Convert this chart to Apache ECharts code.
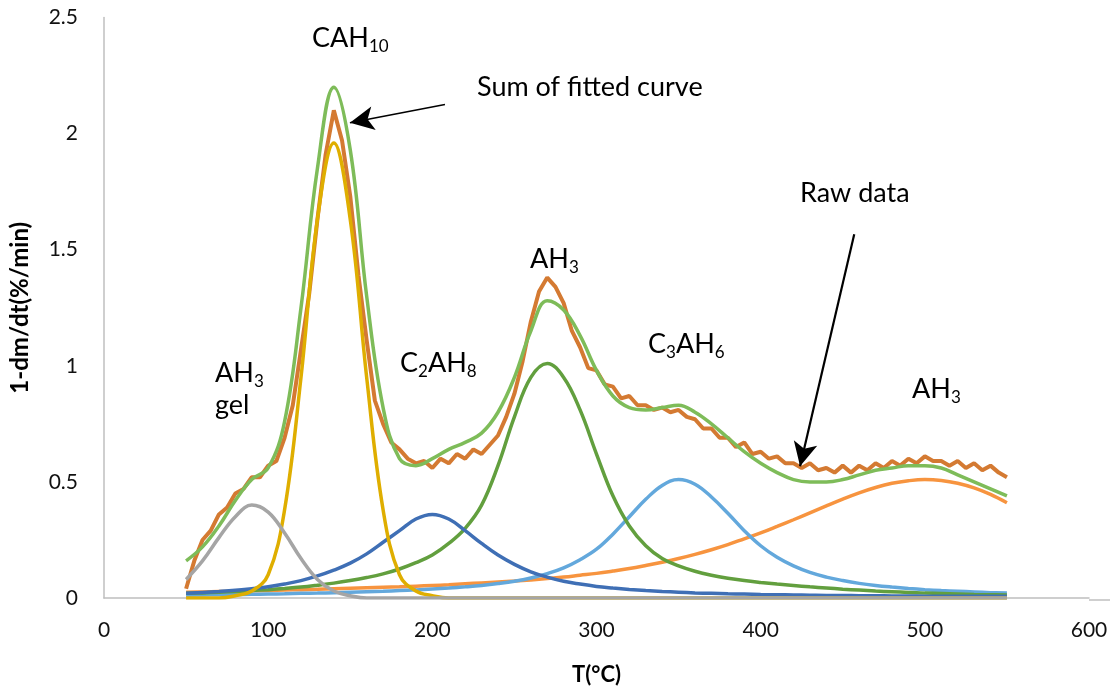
<!DOCTYPE html>
<html>
<head>
<meta charset="utf-8">
<script src="https://cdn.jsdelivr.net/npm/echarts@6/dist/echarts.min.js"></script>
<style>
  html, body { margin: 0; padding: 0; background: #fff; }
  #chart { width: 1114px; height: 691px; }
</style>
</head>
<body>
<div id="chart"></div>
<script>
// temperatures for the fitted curves (every 10 °C)
var temps = [50,60,70,80,90,100,110,120,130,140,150,160,170,180,190,200,210,220,230,240,250,
  260,270,280,290,300,310,320,330,340,350,360,370,380,390,400,410,420,430,440,450,
  460,470,480,490,500,510,520,530,540,550];

// AH3 gel
var gelVals = [0.08,0.16,0.26,0.35,0.40,0.37,0.28,0.17,0.08,0.03,0.01,0,0,0,0,0,0,0,0,0,0,
  0,0,0,0,0,0,0,0,0,0,0,0,0,0,0,0,0,0,0,0,
  0,0,0,0,0,0,0,0,0,0];
// CAH10
var cah10Vals = [0,0,0,0.01,0.03,0.10,0.38,0.95,1.63,1.96,1.63,0.95,0.38,0.10,0.03,0.01,0,0,0,0,0,
  0,0,0,0,0,0,0,0,0,0,0,0,0,0,0,0,0,0,0,0,
  0,0,0,0,0,0,0,0,0,0];
// C2AH8
var c2ah8Vals = [0.02,0.024,0.028,0.033,0.04,0.048,0.06,0.075,0.095,0.12,0.15,0.19,0.24,0.29,0.34,0.36,0.34,0.29,0.235,0.185,0.145,
  0.113,0.09,0.072,0.06,0.05,0.043,0.037,0.032,0.028,0.025,0.022,0.02,0.018,0.017,0.015,0.014,0.013,0.012,0.011,0.011,
  0.01,0.01,0.009,0.009,0.008,0.008,0.008,0.007,0.007,0.007];
// AH3 (270 °C)
var ah3Vals = [0.02,0.022,0.025,0.028,0.032,0.036,0.041,0.047,0.055,0.064,0.075,0.088,0.104,0.125,0.152,0.185,0.235,0.30,0.40,0.57,0.78,
  0.95,1.01,0.95,0.81,0.62,0.44,0.31,0.225,0.17,0.138,0.115,0.098,0.085,0.075,0.067,0.06,0.054,0.048,0.043,0.038,
  0.034,0.03,0.027,0.024,0.021,0.019,0.017,0.015,0.014,0.013];
// C3AH6
var c3ah6Vals = [0.012,0.013,0.014,0.015,0.016,0.017,0.018,0.02,0.021,0.023,0.025,0.027,0.029,0.032,0.035,0.039,0.043,0.048,0.054,0.062,0.072,
  0.086,0.105,0.13,0.165,0.21,0.275,0.35,0.425,0.485,0.51,0.49,0.435,0.365,0.29,0.225,0.175,0.138,0.11,0.09,0.075,
  0.063,0.054,0.047,0.041,0.036,0.032,0.029,0.026,0.023,0.021];
// AH3 (500 °C)
var ah3hVals = [0.025,0.026,0.028,0.029,0.031,0.032,0.034,0.036,0.038,0.04,0.042,0.044,0.046,0.048,0.051,0.054,0.057,0.061,0.065,0.069,0.073,
  0.078,0.084,0.09,0.098,0.106,0.116,0.127,0.14,0.154,0.17,0.188,0.208,0.23,0.255,0.28,0.308,0.337,0.367,0.397,0.426,
  0.453,0.476,0.494,0.505,0.51,0.506,0.494,0.474,0.446,0.41];
// sum of fitted curve
var sumVals = [0.16,0.22,0.31,0.42,0.51,0.56,0.76,1.25,1.85,2.20,1.93,1.30,0.82,0.60,0.57,0.60,0.64,0.67,0.71,0.80,0.95,
  1.15,1.28,1.24,1.13,0.98,0.87,0.82,0.81,0.82,0.83,0.80,0.75,0.69,0.63,0.58,0.54,0.51,0.50,0.50,0.51,
  0.53,0.55,0.56,0.57,0.57,0.56,0.53,0.50,0.47,0.44];

// raw data, every 5 °C
var rawTemps = [];
for (var t = 50; t <= 550; t += 5) rawTemps.push(t);
var rawVals = [0.04,0.16,0.25,0.29,0.36,0.39,0.45,0.47,0.52,0.52,0.57,0.59,0.69,0.83,1.07,1.31,1.63,1.91,2.10,1.97,
  1.73,1.39,1.11,0.85,0.75,0.67,0.64,0.60,0.58,0.59,0.56,0.60,0.58,0.62,0.60,0.64,0.62,0.66,0.70,0.78,
  0.88,1.02,1.19,1.32,1.38,1.34,1.27,1.15,1.08,0.99,0.98,0.92,0.91,0.86,0.87,0.83,0.83,0.81,0.82,0.80,
  0.81,0.78,0.77,0.73,0.73,0.69,0.69,0.65,0.67,0.62,0.63,0.60,0.61,0.58,0.58,0.56,0.58,0.55,0.56,0.54,
  0.57,0.54,0.57,0.55,0.58,0.56,0.59,0.57,0.60,0.58,0.61,0.59,0.59,0.57,0.59,0.56,0.58,0.55,0.57,0.54,0.52];

var xTicks = [0, 600, 100];
var yTicks = [0, 2.5, 0.5];

function pairs(xs, ys) {
    return xs.map(function(x, i){ return [x, ys[i]]; });
}

var FONT = 'Lato, "Open Sans", sans-serif';

function curve(name, vals, color, width, z) {
    return {
        name: name,
        type: 'line',
        data: pairs(temps, vals),
        showSymbol: false,
        smooth: 0.4,
        z: z,
        lineStyle: { color: color, width: width },
        itemStyle: { color: color }
    };
}

function label(text, left, top) {
    return {
        type: 'text',
        left: left,
        top: top,
        style: {
            text: text,
            fill: '#000',
            font: '27px ' + FONT,
            rich: {
                n: { fontSize: 27, fontFamily: FONT, lineHeight: 34, fill: '#000' },
                s: { fontSize: 17, fontFamily: FONT, lineHeight: 14, verticalAlign: 'bottom', fill: '#000' }
            }
        }
    };
}

var myChart = echarts.init(document.getElementById('chart'));
var sumSeries = curve('Sum of fitted curve', sumVals, '#7ebc59', 3.5, 3);
sumSeries.markLine = {
    silent: true,
    symbol: ['none', 'arrow'],
    symbolSize: [18, 24],
    label: { show: false },
    lineStyle: { color: '#000', width: 1.5, type: 'solid' },
    data: [
        [{ coord: [207.7, 2.125] }, { coord: [149.8, 2.047] }],
        [{ coord: [457, 1.567], lineStyle: { width: 2.2 } }, { coord: [424, 0.567] }]
    ]
};

var option = {
    animation: false,
    backgroundColor: '#fff',
    grid: { left: 104, right: 25, top: 17.5, bottom: 91 },
    xAxis: {
        type: 'value',
        min: xTicks[0], max: xTicks[1], interval: xTicks[2],
        name: 'T(°C)',
        nameLocation: 'middle',
        nameGap: 66,
        nameTextStyle: { fontFamily: FONT, fontWeight: 'bold', fontSize: 22, color: '#000' },
        axisLine: { lineStyle: { color: '#bfbfbf', width: 1.5 } },
        axisTick: { show: false },
        splitLine: { show: false },
        axisLabel: { fontFamily: FONT, fontSize: 21, color: '#111', margin: 22 }
    },
    yAxis: {
        type: 'value',
        min: yTicks[0], max: yTicks[1], interval: yTicks[2],
        name: '1-dm/dt(%/min)',
        nameLocation: 'middle',
        nameGap: 72,
        nameTextStyle: { fontFamily: FONT, fontWeight: 'bold', fontSize: 24, color: '#000' },
        axisLine: { show: true, lineStyle: { color: '#bfbfbf', width: 1.5 } },
        axisTick: { show: false },
        splitLine: { show: false },
        axisLabel: { fontFamily: FONT, fontSize: 21, color: '#111', margin: 26 }
    },
    series: [
        {
            name: 'Raw data',
            type: 'line',
            data: pairs(rawTemps, rawVals),
            showSymbol: false,
            smooth: false,
            z: 2,
            lineStyle: { color: '#d47a32', width: 4 },
            itemStyle: { color: '#d47a32' }
        },
        sumSeries,
        curve('AH3 500', ah3hVals, '#f7943f', 3.5, 4),
        curve('C3AH6', c3ah6Vals, '#63a8dc', 3.5, 5),
        curve('AH3 270', ah3Vals, '#629f3e', 3.5, 6),
        curve('C2AH8', c2ah8Vals, '#3f6fb5', 3.5, 7),
        curve('CAH10', cah10Vals, '#dfae00', 3.5, 8),
        curve('AH3 gel', gelVals, '#a5a5a5', 3.5, 9)
    ],
    graphic: [
        { type: 'line', shape: { x1: 1089, y1: 600, x2: 1110, y2: 600 }, style: { stroke: '#bfbfbf', lineWidth: 1.5 } },
        label('{n|CAH}{s|10}', 312, 25),
        label('{n|Sum of fitted curve}', 477, 74),
        label('{n|Raw data}', 800, 180),
        label('{n|AH}{s|3}', 530, 246),
        label('{n|AH}{s|3}', 215, 360),
        label('{n|gel}', 215, 392),
        label('{n|C}{s|2}{n|AH}{s|8}', 400, 350),
        label('{n|C}{s|3}{n|AH}{s|6}', 648, 331),
        label('{n|AH}{s|3}', 912, 376)
    ]
};
myChart.setOption(option);
</script>
</body>
</html>
